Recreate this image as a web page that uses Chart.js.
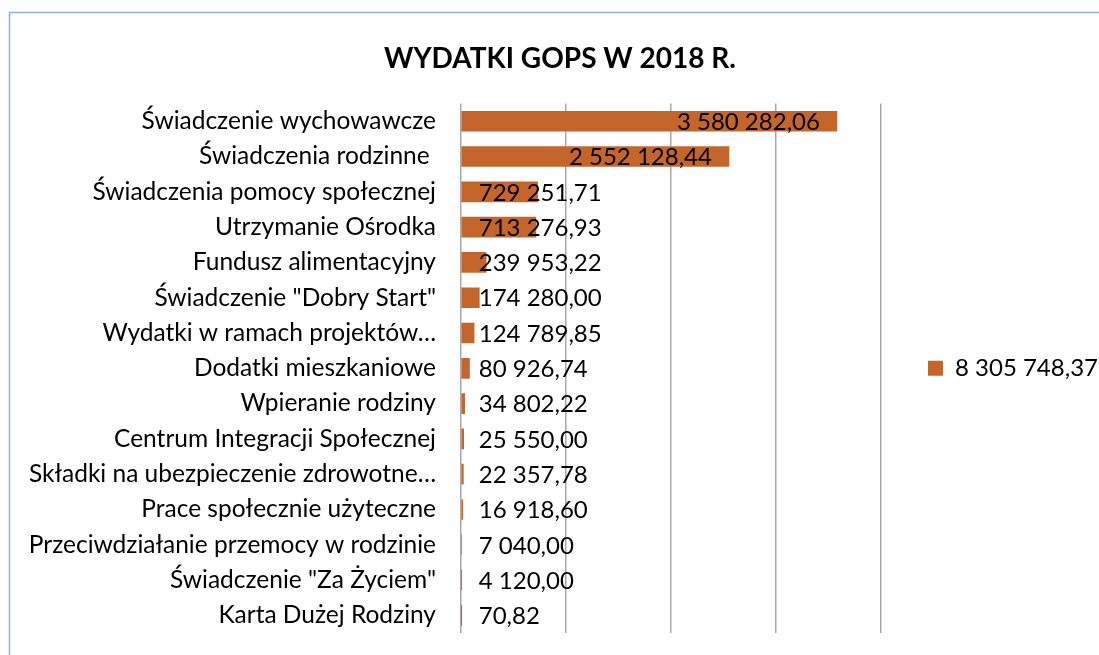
<!DOCTYPE html>
<html>
<head>
<meta charset="utf-8">
<script src="https://cdn.jsdelivr.net/npm/chart.js@4"></script>
<style>
html,body{margin:0;padding:0;background:#fff;}
#wrap{width:1099px;height:655px;position:relative;}
</style>
</head>
<body>
<div id="wrap"><canvas id="c" width="1099" height="655"></canvas></div>
<script>
const categories = [
  'Świadczenie wychowawcze',
  'Świadczenia rodzinne ',
  'Świadczenia pomocy społecznej',
  'Utrzymanie Ośrodka',
  'Fundusz alimentacyjny',
  'Świadczenie "Dobry Start"',
  'Wydatki w ramach projektów…',
  'Dodatki mieszkaniowe',
  'Wpieranie rodziny',
  'Centrum Integracji Społecznej',
  'Składki na ubezpieczenie zdrowotne…',
  'Prace społecznie użyteczne',
  'Przeciwdziałanie przemocy w rodzinie',
  'Świadczenie "Za Życiem"',
  'Karta Dużej Rodziny'
];
const values = [
  3580282.06, 2552128.44, 729251.71, 713276.93, 239953.22,
  174280.00, 124789.85, 80926.74, 34802.22, 25550.00,
  22357.78, 16918.60, 7040.00, 4120.00, 70.82
];
const seriesName = '8 305 748,37';
const xTicks = [0, 1000000, 2000000, 3000000, 4000000];
const titleText = 'WYDATKI GOPS W 2018 R.';

const FONT = 'Lato';
const BAR = '#C4662B';

function fmtPL(v){
  const parts = v.toFixed(2).split('.');
  const intp = parts[0].replace(/\B(?=(\d{3})+(?!\d))/g, ' ');
  return intp + ',' + parts[1];
}

const framePlugin = {
  id: 'frame',
  beforeDraw(chart){
    const ctx = chart.ctx;
    ctx.save();
    ctx.fillStyle = '#fff';
    ctx.fillRect(0,0,chart.width,chart.height);
    ctx.strokeStyle = '#8DB0DE';
    ctx.lineWidth = 1.5;
    ctx.beginPath();
    ctx.moveTo(9.5, chart.height + 5);
    ctx.lineTo(9.5, 12.5);
    ctx.lineTo(chart.width + 5, 12.5);
    ctx.stroke();
    ctx.restore();
  }
};

const labelPlugin = {
  id: 'barLabels',
  afterDatasetsDraw(chart){
    const ctx = chart.ctx;
    const meta = chart.getDatasetMeta(0);
    ctx.save();
    ctx.font = '24px ' + FONT;
    ctx.fillStyle = '#000';
    ctx.textBaseline = 'middle';
    ctx.textAlign = 'left';
    meta.data.forEach((bar, i) => {
      const txt = fmtPL(values[i]);
      const w = ctx.measureText(txt).width;
      const x = Math.max(bar.base + 17, bar.x - 17 - w);
      ctx.fillText(txt, x, bar.y + 1);
    });
    ctx.restore();
  }
};

new Chart(document.getElementById('c'), {
  type: 'bar',
  data: {
    labels: categories,
    datasets: [{
      label: seriesName,
      data: values,
      backgroundColor: BAR,
      borderWidth: 0,
      barThickness: 20
    }]
  },
  plugins: [framePlugin, labelPlugin],
  options: {
    indexAxis: 'y',
    responsive: false,
    animation: false,
    devicePixelRatio: 1,
    layout: { padding: { left: 12, right: -9, top: 22, bottom: 22 } },
    plugins: {
      title: {
        display: true,
        text: titleText,
        color: '#000',
        font: { family: FONT, size: 28, weight: 'bold' },
        padding: { top: 20, bottom: 28 }
      },
      legend: {
        display: true,
        position: 'right',
        fullSize: false,
        labels: {
          boxWidth: 15,
          boxHeight: 15,
          padding: 47,
          color: '#000',
          font: { family: FONT, size: 24 }
        }
      },
      tooltip: { enabled: false }
    },
    scales: {
      x: {
        min: 0,
        max: 4000000,
        afterBuildTicks(scale){ scale.ticks = xTicks.map(v => ({ value: v })); },
        ticks: { display: false },
        grid: { color: '#A8A8A8', lineWidth: 1.5, drawTicks: false },
        border: { display: false }
      },
      y: {
        afterFit(scale){ scale.width = 449; },
        ticks: { color: '#000', font: { family: FONT, size: 24.5 }, padding: 0, autoSkip: false },
        grid: { display: false, drawTicks: true, tickLength: 25 },
        border: { display: false }
      }
    }
  }
});
</script>
</body>
</html>
